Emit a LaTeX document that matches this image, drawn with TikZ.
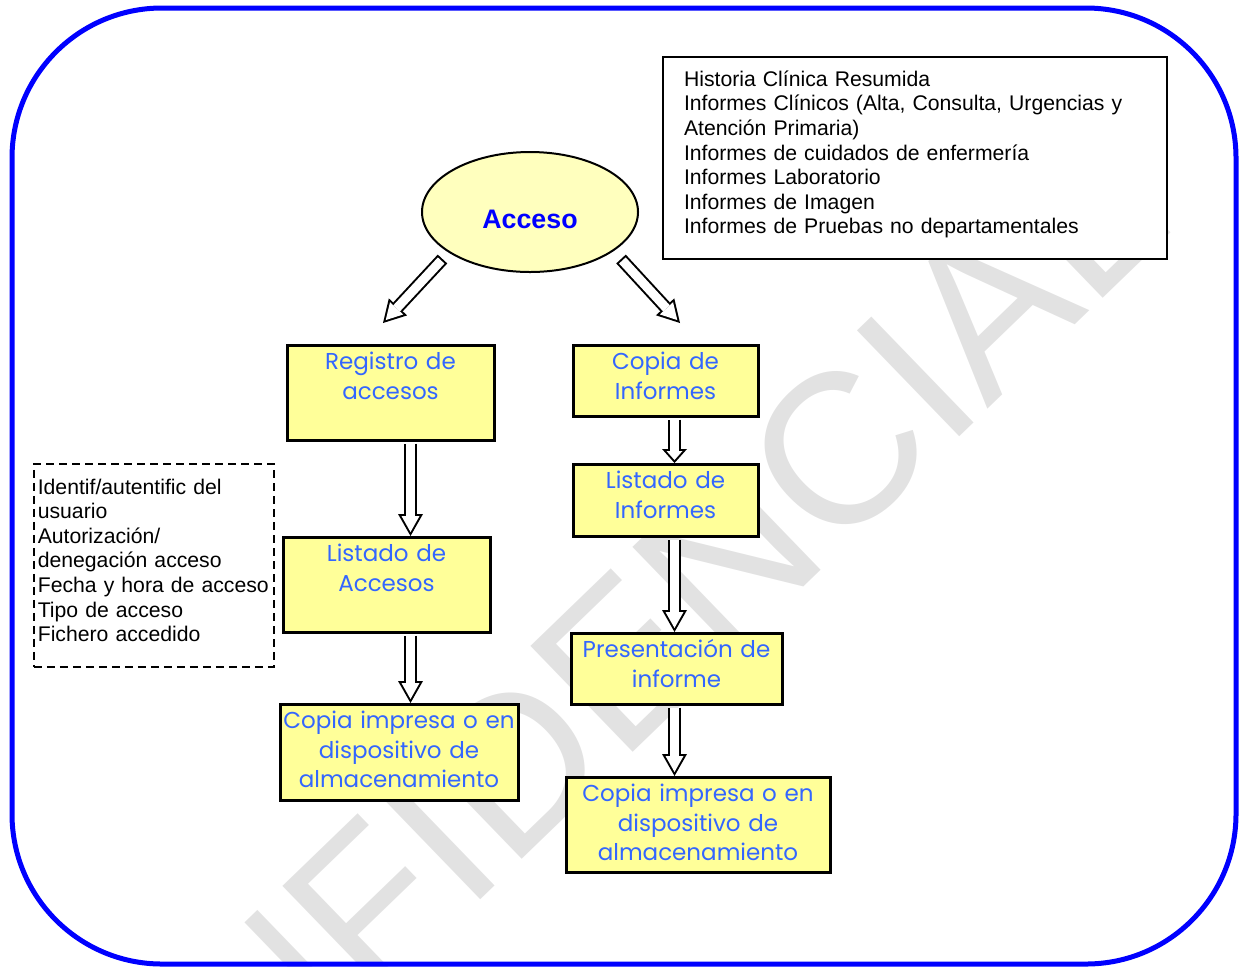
\documentclass[tikz,border=0pt]{standalone}
\usepackage{fontspec}
\setmainfont{Liberation Sans}
\newfontfamily\boxfont{Poppins}
\usetikzlibrary{shapes.geometric,arrows.meta,positioning}
\definecolor{myblue}{RGB}{0,0,255}
\definecolor{mytext}{RGB}{51,102,255}
\definecolor{myyellow}{RGB}{255,255,153}
\definecolor{mycream}{RGB}{255,255,190}
\definecolor{mygray}{RGB}{226,226,226}

\tikzset{
  ybox/.style={draw, line width=1.5pt, fill=myyellow, anchor=north, align=center,
    text=mytext, font=\boxfont\fontsize{11.5}{14.75}\selectfont,
    inner xsep=0pt, inner ysep=3pt, text height=9pt},
  hol/.style={line width=6.5pt, shorten <=0.75pt,
    -{Triangle[length=11pt,width=12.5pt,line width=0pt]}},
  holin/.style={white, line width=4.5pt, shorten <=0.75pt, shorten >=2pt,
    -{Triangle[length=8pt,width=9pt,line width=0pt]}},
}

\begin{document}
\begin{tikzpicture}[x=0.5pt, y=-0.5pt, font=\fontsize{10.6}{12.3}\selectfont]
  \useasboundingbox (0,0) rectangle (1240,966);
  \clip (0,0) rectangle (1240,966);

  % marca de agua
  \node[rotate=44, text=mygray, inner sep=0pt,
        font=\fontsize{107}{107}\selectfont](wm) at (552,728){CONFIDENCIAL};

  % marco
  \draw[myblue, line width=2.5pt, rounded corners=75pt](12,8) rectangle (1236,964);

  \node[ellipse, draw, line width=1pt, fill=mycream, minimum width=108pt,
        minimum height=60pt, inner sep=0pt, text=myblue, text height=16.3pt, text depth=0pt,
        font=\bfseries\fontsize{13.4}{15}\selectfont](acc) at (530,212){Acceso};

  \node[draw, line width=1pt, fill=white, anchor=north west, align=left,
        text width=231pt, inner xsep=10.5pt, inner ysep=7pt,
        text height=7.6pt, text depth=79.4pt](inf) at (662,56)
    {Historia Clínica Resumida\\
     Informes Clínicos (Alta, Consulta, Urgencias y\\
     Atención Primaria)\\
     Informes de cuidados de enfermería\\
     Informes Laboratorio\\
     Informes de Imagen\\
     Informes de Pruebas no departamentales};

  \node[draw, dash pattern=on 4pt off 2.5pt, line width=0.8pt, anchor=north west,
        align=left, text width=116pt, inner xsep=2pt, inner ysep=7.5pt,
        text height=7.6pt, text depth=78.9pt](usr) at (33,463)
    {Identif/autentific del\\
     usuario\\
     Autorización/\\
     denegación acceso\\
     Fecha y hora de acceso\\
     Tipo de acceso\\
     Fichero accedido};

  % columna izquierda
  \node[ybox, text width=103.5pt, text depth=32.5pt](reg) at (390.5,344){Registro de\\accesos};
  \node[ybox, text width=103.5pt, text depth=32.5pt](lacc) at (386.5,536){Listado de\\Accesos};
  \node[ybox, text width=119pt, text depth=33pt](cpl) at (399,703)
    {Copia impresa o en\\dispositivo de\\almacenamiento};

  % columna derecha
  \node[ybox, text width=92.5pt, text depth=20.5pt](cinf) at (665.5,344){Copia de\\Informes};
  \node[ybox, text width=92.5pt, text depth=21pt](linf) at (665.5,463){Listado de\\Informes};
  \node[ybox, text width=105.5pt, text depth=20.5pt](pres) at (676.5,632){Presentación de\\informe};
  \node[ybox, text width=132pt, text depth=32.5pt](cpr) at (698,776)
    {Copia impresa o en\\dispositivo de\\almacenamiento};

  \coordinate (colL) at (410.5,0);
  \coordinate (colR) at (674.5,0);
  \coordinate (startL) at (442.5,259);
  \coordinate (tipL) at (383,323);
  \coordinate (startR) at (621,259);
  \coordinate (tipR) at (680,323);

  \foreach \a/\b/\c in {reg/lacc/colL, lacc/cpl/colL, linf/pres/colR, pres/cpr/colR}{
    \draw[hol](\a.south -| \c) -- (\b.north -| \c);
    \draw[holin](\a.south -| \c) -- (\b.north -| \c);
  }
  \draw[line width=6.5pt, shorten <=0.75pt,
        -{Triangle[length=7pt,width=12.5pt,line width=0pt]}](cinf.south -| colR) -- (linf.north -| colR);
  \draw[white, line width=4.5pt, shorten <=0.75pt, shorten >=1.5pt,
        -{Triangle[length=4.5pt,width=8pt,line width=0pt]}](cinf.south -| colR) -- (linf.north -| colR);

  \foreach \s/\t in {startL/tipL, startR/tipR}{
    \draw[hol, shorten <=0pt](\s) -- (\t);
    \draw[holin, shorten <=1pt](\s) -- (\t);
  }
\end{tikzpicture}
\end{document}
